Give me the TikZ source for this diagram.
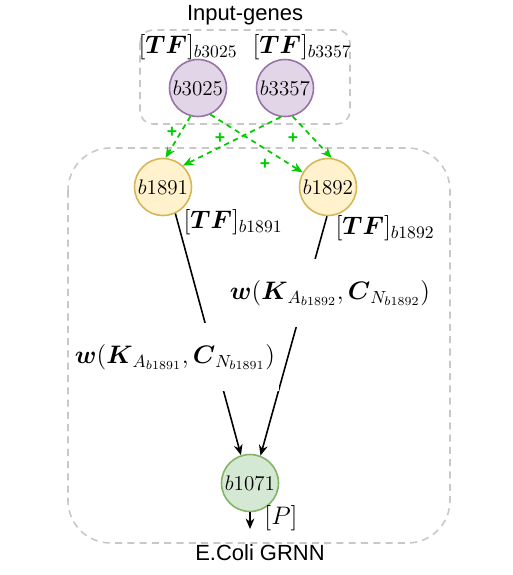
\documentclass[tikz,border=0pt]{standalone}
\usepackage{amsmath}
\usepackage{fontspec}
\newfontfamily\helv{Liberation Sans}
\usetikzlibrary{arrows.meta}
\definecolor{actgreen}{HTML}{00CC00}
\definecolor{inpfill}{HTML}{E1D5E7}
\definecolor{inpline}{HTML}{9673A6}
\definecolor{midfill}{HTML}{FFF2CC}
\definecolor{midline}{HTML}{D6B656}
\definecolor{outfill}{HTML}{D5E8D4}
\definecolor{outline}{HTML}{82B366}
\definecolor{boxline}{HTML}{C8C8C8}

\begin{document}
\begin{tikzpicture}[x=0.02cm,y=-0.02cm,
    gene/.style={circle,draw,line width=0.9pt,minimum size=1.14cm,inner sep=0pt,font=\fontsize{13}{15}\selectfont},
    genein/.style={gene,fill=inpfill,draw=inpline},
    genemid/.style={gene,fill=midfill,draw=midline},
    geneout/.style={gene,fill=outfill,draw=outline},
    grp/.style={draw=boxline,dash pattern=on 4pt off 3pt,line width=0.9pt},
    act/.style={draw=actgreen,dash pattern=on 3pt off 2.5pt,line width=1pt,-{Stealth[length=6pt,width=5pt]}},
    plus/.style={text=actgreen,font=\helv\bfseries\fontsize{10}{11}\selectfont,inner sep=0pt},
    edge/.style={draw=black,line width=0.9pt,-{Stealth[length=6pt,width=5pt]}},
    wlabel/.style={fill=white,inner xsep=2pt,inner ysep=12pt,font=\fontsize{14.5}{16}\selectfont},
    tflabel/.style={inner sep=0pt,font=\fontsize{14}{16}\selectfont},
    title/.style={font=\helv\fontsize{12.5}{14}\selectfont,inner sep=0pt}]
    \useasboundingbox (0,0) rectangle (512,575);

    % groups
    \draw[grp,rounded corners=0.26cm] (140,30) rectangle (350,124);
    \draw[grp,rounded corners=0.85cm] (68,148) rectangle (450,543);
    \node[title] (intitle) at (245,15) {Input-genes};
    \node[title] (grntitle) at (260,553) {E.Coli GRNN};

    % genes
    \node[genein] (b3025) at (198,88) {$b3025$};
    \node[genein] (b3357) at (285,88) {$b3357$};
    \node[genemid] (b1891) at (163,187) {$b1891$};
    \node[genemid] (b1892) at (328,187) {$b1892$};
    \node[geneout] (b1071) at (250,483) {$b1071$};
    \coordinate (pout) at (250,529);

    \node[tflabel] (tf3025) at (188,47) {$[\boldsymbol{TF}]_{b3025}$};
    \node[tflabel] (tf3357) at (302,47) {$[\boldsymbol{TF}]_{b3357}$};
    \node[tflabel] (tf1891) at (233,222) {$[\boldsymbol{TF}]_{b1891}$};
    \node[tflabel] (tf1892) at (385,228) {$[\boldsymbol{TF}]_{b1892}$};

    % activations
    \draw[act] (b3025.255) -- (b1891.85);
    \draw[act] (b3025.295) -- (b1892.150);
    \draw[act] (b3357.262) -- (b1891.47);
    \draw[act] (b3357.285) -- (b1892.83);
    \node[plus] (p1) at (172,132) {+};
    \node[plus] (p2) at (220,138) {+};
    \node[plus] (p3) at (293,138) {+};
    \node[plus] (p4) at (265,164) {+};

    % weighted edges
    \draw[edge] (b1891.-65) -- (b1071.108);
    \draw[edge] (b1892.268) -- (b1071.69);
    \node[wlabel] (w1891) at (175,357) {$\boldsymbol{w}(\boldsymbol{K}_{A_{b1891}},\boldsymbol{C}_{N_{b1891}})$};
    \node[wlabel] (w1892) at (330,293) {$\boldsymbol{w}(\boldsymbol{K}_{A_{b1892}},\boldsymbol{C}_{N_{b1892}})$};

    \draw[edge] (b1071) -- (pout);
    \node[tflabel] (pl) at (281,518) {$[P]$};
\end{tikzpicture}
\end{document}
